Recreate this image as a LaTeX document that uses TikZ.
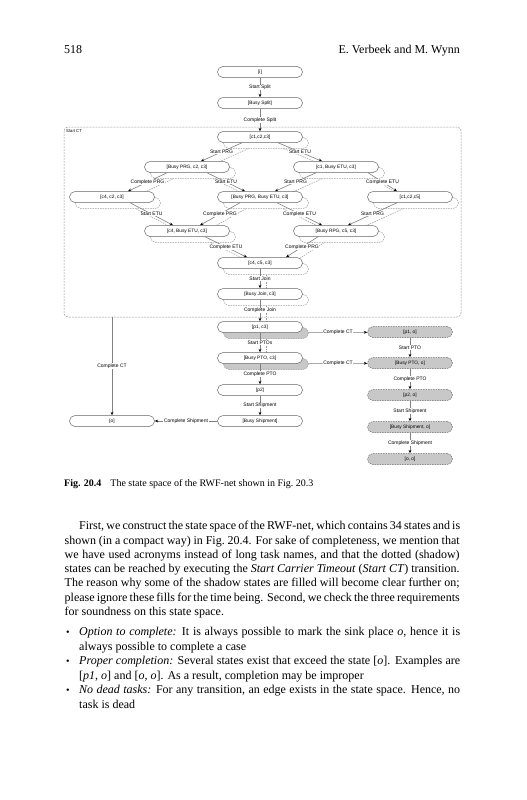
\documentclass[tikz,border=0pt]{standalone}
\usepackage{fontspec}
\setmainfont{Liberation Serif}
\newfontfamily\diagfont{Liberation Sans}
\usetikzlibrary{arrows.meta,calc}
\definecolor{edgegray}{HTML}{808080}
\definecolor{nodegray}{HTML}{666666}
\definecolor{fillgray}{HTML}{C8C8C8}
\definecolor{shadowgray}{HTML}{9A9A9A}
\tikzset{
  state/.style={draw=nodegray, line width=0.5pt, fill=white, rounded corners=5.5pt,
    minimum width=85pt, minimum height=11pt, inner sep=0pt,
    font=\diagfont\fontsize{4.8}{5}\selectfont},
  shadowstate/.style={state, draw=shadowgray, dash pattern=on 1.5pt off 1pt},
  filledshadow/.style={shadowstate, fill=fillgray},
  outstate/.style={shadowstate, fill=fillgray, draw=nodegray},
  trans/.style={draw=edgegray, line width=0.6pt, -{Stealth[length=3.4pt,width=2.8pt,color=black]}},
  shadowtrans/.style={draw=shadowgray, line width=0.5pt, dash pattern=on 1.5pt off 1pt},
  lbl/.style={fill=white, inner sep=0.6pt, font=\diagfont\fontsize{5}{5}\selectfont},
  ctbox/.style={draw=shadowgray, line width=0.5pt, dash pattern=on 2pt off 1pt, rounded corners=4pt},
  bodyline/.style={anchor=base west, inner sep=0pt, font=\fontsize{12}{14.4}\selectfont},
  capline/.style={anchor=base west, inner sep=0pt, font=\fontsize{10}{11}\selectfont},
}
\begin{document}
\begin{tikzpicture}[x=1pt,y=-1pt]
\useasboundingbox (0,0) rectangle (527,800);
\fill[white] (0,0) rectangle (527,800);

% header
\node[bodyline] (pagenum) at (64,53) {518};
\node[bodyline, anchor=base east] (runhead) at (460,53) {E. Verbeek and M. Wynn};

% Start CT box
\draw[ctbox] (64,127) rectangle (461,317);
\node[anchor=north west, inner sep=0pt, font=\diagfont\fontsize{4.2}{4.5}\selectfont] (ctlabel) at (66,129) {Start CT};

% shadow states
\node[shadowstate] (c123s) at (266,143) {};
\node[shadowstate] (bp23s) at (193,173) {};
\node[shadowstate] (c1be3s) at (342,173) {};
\node[shadowstate] (c423s) at (118,203) {};
\node[shadowstate] (bpbes) at (266,203) {};
\node[shadowstate] (c125s) at (416,203) {};
\node[shadowstate] (c4be3s) at (193,237) {};
\node[shadowstate] (bp53s) at (342,237) {};
\node[shadowstate] (c453s) at (266,269) {};
\node[shadowstate] (bj3s) at (266,300) {};
\node[filledshadow] (p13s) at (266,333) {};
\node[filledshadow] (bpt3s) at (266,364) {};

% shadow transitions
\draw[shadowtrans] ($(c123s.south)+(-18,0)$) -- ($(bp23s.north)+(14,0)$);
\draw[shadowtrans] ($(c123s.south)+(18,0)$) -- ($(c1be3s.north)+(-14,0)$);
\draw[shadowtrans] ($(bp23s.south)+(-20,0)$) -- ($(c423s.north)+(16,0)$);
\draw[shadowtrans] ($(bp23s.south)+(20,0)$) -- ($(bpbes.north)+(-15,0)$);
\draw[shadowtrans] ($(c1be3s.south)+(-20,0)$) -- ($(bpbes.north)+(15,0)$);
\draw[shadowtrans] ($(c1be3s.south)+(32,0)$) -- ($(c125s.north)+(-13,0)$);
\draw[shadowtrans] ($(c423s.south)+(18,0)$) -- ($(c4be3s.north)+(-14,0)$);
\draw[shadowtrans] ($(bpbes.south)+(-20,0)$) -- ($(c4be3s.north)+(13,0)$);
\draw[shadowtrans] ($(bpbes.south)+(17,0)$) -- ($(bp53s.north)+(-14,0)$);
\draw[shadowtrans] ($(c125s.south)+(-13,0)$) -- ($(bp53s.north)+(12,0)$);
\draw[shadowtrans] ($(c4be3s.south)+(18,0)$) -- ($(c453s.north)+(-13,0)$);
\draw[shadowtrans] ($(bp53s.south)+(-18,0)$) -- ($(c453s.north)+(26,0)$);
\draw[shadowtrans] (c453s) -- (bj3s);
\draw[shadowtrans] (bj3s) -- (p13s);
\draw[shadowtrans] (p13s) -- (bpt3s);

% main states
\node[state] (i) at (260,72) {[i]};
\node[state] (bs) at (260,103) {[Busy Split]};
\node[state] (c123) at (260,137) {[c1,c2,c3]};
\node[state] (bp23) at (187,167) {[Busy PRG, c2, c3]};
\node[state] (c1be3) at (336,167) {[c1, Busy ETU, c3]};
\node[state] (c423) at (112,197) {[c4, c2, c3]};
\node[state] (bpbe) at (260,197) {[Busy PRG, Busy ETU, c3]};
\node[state] (c125) at (410,197) {[c1,c2,c5]};
\node[state] (c4be3) at (187,231) {[c4, Busy ETU, c3]};
\node[state] (bp53) at (336,231) {[Busy RPG, c5, c3]};
\node[state] (c453) at (260,263) {[c4, c5, c3]};
\node[state] (bj3) at (260,294) {[Busy Join, c3]};
\node[state] (p13) at (260,327) {[p1, c3]};
\node[state] (bpt3) at (260,358) {[Busy PTO, c3]};
\node[state] (p2) at (260,390) {[p2]};
\node[state] (bsh) at (260,421) {[Busy Shipment]};
\node[state] (o) at (112,421) {[o]};
\node[outstate] (p1o) at (410,332) {[p1, o]};
\node[outstate] (bpto) at (410,363) {[Busy PTO, o]};
\node[outstate] (p2o) at (410,395) {[p2, o]};
\node[outstate] (bsho) at (410,427) {[Busy Shipment, o]};
\node[outstate] (oo) at (410,459) {[o, o]};

% main transitions
\draw[trans] (i) -- node[lbl]{Start Split} (bs);
\draw[trans] (bs) -- node[lbl]{Complete Split} (c123);
\draw[trans] ($(c123.south)+(-18,0)$) -- node[lbl]{Start PRG} ($(bp23.north)+(14,0)$);
\draw[trans] ($(c123.south)+(18,0)$) -- node[lbl]{Start ETU} ($(c1be3.north)+(-14,0)$);
\draw[trans] ($(bp23.south)+(-20,0)$) -- node[lbl]{Complete PRG} ($(c423.north)+(16,0)$);
\draw[trans] ($(bp23.south)+(20,0)$) -- node[lbl]{Start ETU} ($(bpbe.north)+(-15,0)$);
\draw[trans] ($(c1be3.south)+(-20,0)$) -- node[lbl]{Start PRG} ($(bpbe.north)+(15,0)$);
\draw[trans] ($(c1be3.south)+(32,0)$) -- node[lbl]{Complete ETU} ($(c125.north)+(-13,0)$);
\draw[trans] ($(c423.south)+(18,0)$) -- node[lbl]{Start ETU} ($(c4be3.north)+(-14,0)$);
\draw[trans] ($(bpbe.south)+(-20,0)$) -- node[lbl]{Complete PRG} ($(c4be3.north)+(13,0)$);
\draw[trans] ($(bpbe.south)+(17,0)$) -- node[lbl]{Complete ETU} ($(bp53.north)+(-14,0)$);
\draw[trans] ($(c125.south)+(-13,0)$) -- node[lbl]{Start PRG} ($(bp53.north)+(12,0)$);
\draw[trans] ($(c4be3.south)+(18,0)$) -- node[lbl]{Complete ETU} ($(c453.north)+(-13,0)$);
\draw[trans] ($(bp53.south)+(-18,0)$) -- node[lbl]{Complete PRG} ($(c453.north)+(26,0)$);
\draw[trans] (c453) -- node[lbl]{Start Join} (bj3);
\draw[trans] (bj3) -- node[lbl]{Complete Join} (p13);
\draw[trans] (p13) -- node[lbl]{Start PTOs} (bpt3);
\draw[trans] (bpt3) -- node[lbl]{Complete PTO} (p2);
\draw[trans] (p2) -- node[lbl]{Start Shipment} (bsh);
\draw[trans] (bsh) -- node[lbl]{Complete Shipment} (o);
\coordinate (ctstart) at (112,317);
\draw[trans] (ctstart) -- node[lbl]{Complete CT} (o);
\draw[trans] (p13s) -- node[lbl]{Complete CT} (p1o);
\draw[trans] (bpt3s) -- node[lbl]{Complete CT} (bpto);
\draw[trans] (p1o) -- node[lbl]{Start PTO} (bpto);
\draw[trans] (bpto) -- node[lbl]{Complete PTO} (p2o);
\draw[trans] (p2o) -- node[lbl]{Start Shipment} (bsho);
\draw[trans] (bsho) -- node[lbl]{Complete Shipment} (oo);

% caption
\node[capline] (caption) at (64,486) {\textbf{Fig. 20.4}\hspace{0.9em}The state space of the RWF-net shown in Fig.~20.3};

% body text
\node[bodyline] (l1) at (79,529.5) {\makebox[381pt][s]{First, we construct the state space of the RWF-net, which contains 34 states and is}};
\node[bodyline] (l2) at (64.5,544) {\makebox[395pt][s]{shown (in a compact way) in Fig.~20.4. For sake of completeness, we mention that}};
\node[bodyline] (l3) at (64.5,558) {\makebox[395pt][s]{we have used acronyms instead of long task names, and that the dotted (shadow)}};
\node[bodyline] (l4) at (64.5,572) {\makebox[395pt][s]{states can be reached by executing the \textit{Start Carrier Timeout} (\textit{Start CT}) transition.}};
\node[bodyline] (l5) at (64.5,586.5) {\makebox[395pt][s]{The reason why some of the shadow states are filled will become clear further on;}};
\node[bodyline] (l6) at (64.5,601) {\makebox[395pt][s]{please ignore these fills for the time being. Second, we check the three requirements}};
\node[bodyline] (l7) at (64.5,615.5) {for soundness on this state space.};

\node[bodyline, font=\fontsize{10}{12}\selectfont] (b1) at (66,635.5) {\textbullet};
\node[bodyline] (l8) at (79,635.5) {\makebox[381pt][s]{\textit{Option to complete:} It is always possible to mark the sink place \textit{o}, hence it is}};
\node[bodyline] (l9) at (79,650) {always possible to complete a case};
\node[bodyline, font=\fontsize{10}{12}\selectfont] (b2) at (66,664.5) {\textbullet};
\node[bodyline] (l10) at (79,664.5) {\makebox[381pt][s]{\textit{Proper completion:} Several states exist that exceed the state [\textit{o}]. Examples are}};
\node[bodyline] (l11) at (79,679) {[\textit{p1}, \textit{o}] and [\textit{o}, \textit{o}]. As a result, completion may be improper};
\node[bodyline, font=\fontsize{10}{12}\selectfont] (b3) at (66,693.5) {\textbullet};
\node[bodyline] (l12) at (79,693.5) {\makebox[381pt][s]{\textit{No dead tasks:} For any transition, an edge exists in the state space. Hence, no}};
\node[bodyline] (l13) at (79,708) {task is dead};
\end{tikzpicture}
\end{document}
